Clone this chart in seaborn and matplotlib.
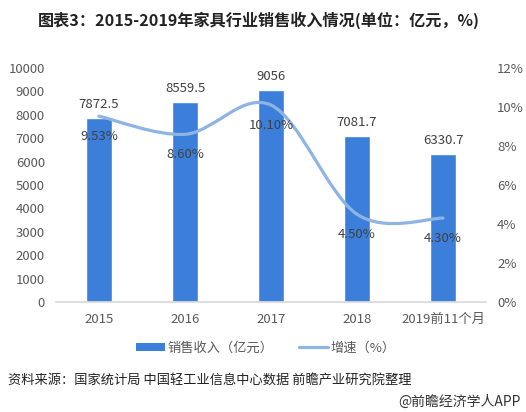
import numpy as np
import pandas as pd
import matplotlib
matplotlib.use("Agg")
import matplotlib.pyplot as plt
from matplotlib.path import Path
from matplotlib.patches import PathPatch, Patch
from matplotlib.lines import Line2D
import seaborn as sns

categories = ["2015", "2016", "2017", "2018", "2019前11个月"]
revenue = [7872.5, 8559.5, 9056, 7081.7, 6330.7]
growth = [9.53, 8.60, 10.10, 4.50, 4.30]
growth_labels = ["9.53%", "8.60%", "10.10%", "4.50%", "4.30%"]
left_ticks = [0, 1000, 2000, 3000, 4000, 5000, 6000, 7000, 8000, 9000, 10000]
right_ticks = [0, 2, 4, 6, 8, 10, 12]

sns.set_theme(style="white")
plt.rcParams['font.family'] = ['Noto Sans CJK SC', 'DejaVu Sans']

BAR = "#3c7fdb"
LINE = "#8db4e3"
TICK = "#595959"

fig = plt.figure(figsize=(5.26, 4.12), dpi=100)
ax = fig.add_axes([56/526, 110/412, 430/526, 234/412])

df = pd.DataFrame({"cat": categories, "rev": revenue})
sns.barplot(data=df, x="cat", y="rev", ax=ax, color=BAR, width=0.31, saturation=1)
ax.set_xlim(-0.5, 4.5)
ax.set_ylim(0, 10000)
ax.set_yticks(left_ticks)
ax.set_yticklabels([str(t) for t in left_ticks])
ax.set_xlabel("")
ax.set_ylabel("")
for s in ["top", "right", "left"]:
    ax.spines[s].set_visible(False)
ax.spines["bottom"].set_color("#d9d9d9")
ax.tick_params(axis="both", length=0, labelsize=9.5, colors=TICK)
ax.tick_params(axis="x", pad=8)
ax.tick_params(axis="y", pad=8)

for i, v in enumerate(revenue):
    ax.annotate(f"{v:g}", (i, v), xytext=(0, 5), textcoords="offset points",
                ha="center", va="bottom", fontsize=9.5, color="#404040")

ax2 = ax.twinx()
ax2.set_ylim(0, 12)
ax2.set_yticks(right_ticks)
ax2.set_yticklabels([f"{t}%" for t in right_ticks])
for s in ["top", "right", "left", "bottom"]:
    ax2.spines[s].set_visible(False)
ax2.tick_params(axis="y", length=0, labelsize=9.5, colors=TICK, pad=8)
ax2.grid(False)

# smooth (Catmull-Rom style Bezier) line through the data points
xs = np.arange(len(growth), dtype=float)
ys = np.array(growth, dtype=float)
pts = np.column_stack([xs, ys])
verts = [tuple(pts[0])]
codes = [Path.MOVETO]
n = len(pts)
for i in range(n - 1):
    p0 = pts[i - 1] if i > 0 else pts[i]
    p1 = pts[i]
    p2 = pts[i + 1]
    p3 = pts[i + 2] if i + 2 < n else pts[i + 1]
    c1 = p1 + (p2 - p0) / 6.0
    c2 = p2 - (p3 - p1) / 6.0
    verts += [tuple(c1), tuple(c2), tuple(p2)]
    codes += [Path.CURVE4] * 3
ax2.add_patch(PathPatch(Path(verts, codes), facecolor="none", edgecolor=LINE,
                        lw=2.3, capstyle="round", zorder=3))

for i, (v, lab) in enumerate(zip(growth, growth_labels)):
    ax2.annotate(lab, (i, v), xytext=(0, -10), textcoords="offset points",
                 ha="center", va="top", fontsize=9.5, color="#404040")

handles = [Patch(facecolor=BAR, edgecolor="none"),
           Line2D([0], [0], color=LINE, lw=2.3)]
fig.legend(handles, ["销售收入（亿元）", "增速（%）"], loc="center",
           bbox_to_anchor=(266/526, 1 - 348/412), ncol=2, frameon=False,
           fontsize=9.5, labelcolor=TICK, handlelength=2.2, handleheight=0.55,
           handletextpad=0.2, columnspacing=1.9)

fig.text(259/526, 1 - 20/412, "图表3：2015-2019年家具行业销售收入情况(单位：亿元，%)",
         ha="center", va="center", fontsize=11.6, fontweight="bold", color="#222222")
fig.text(8/526, 1 - 381/412, "资料来源：国家统计局 中国轻工业信息中心数据 前瞻产业研究院整理",
         ha="left", va="center", fontsize=9.5, color="#222222")
fig.text(521/526, 1 - 402/412, "@前瞻经济学人APP",
         ha="right", va="center", fontsize=10, color="#333333")

fig.savefig("out.png", dpi=100)
